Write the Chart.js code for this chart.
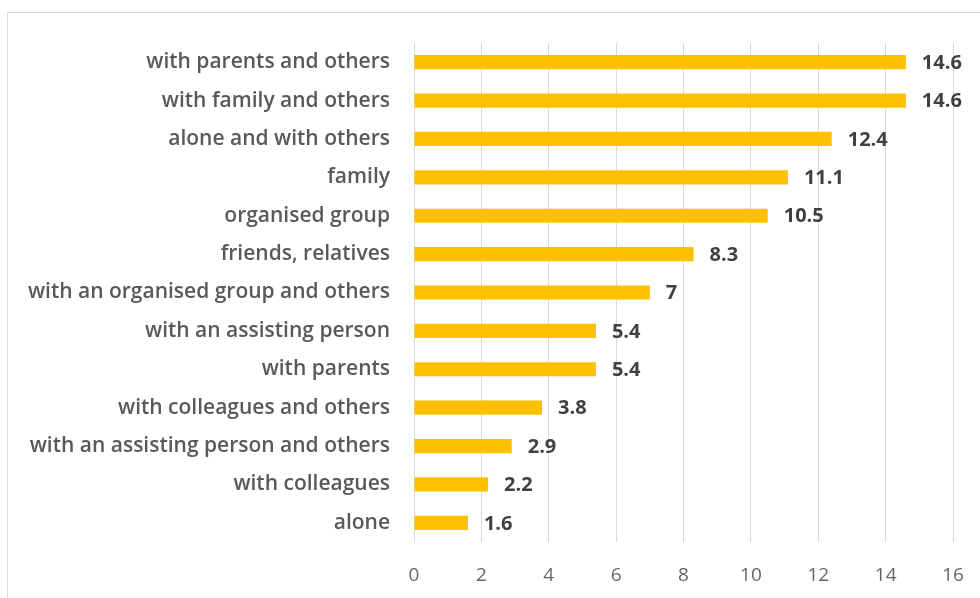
<!DOCTYPE html>
<html>
<head>
<meta charset="utf-8">
<script src="https://cdn.jsdelivr.net/npm/chart.js@4/dist/chart.umd.min.js"></script>
<style>
    html, body { margin: 0; padding: 0; background: #fff; }
    #wrap { position: relative; width: 980px; height: 598px; overflow: hidden; }
    #frame { position: absolute; left: 7px; top: 12px; width: 1000px; height: 700px; border-top: 1px solid #d9d9d9; border-left: 1px solid #d9d9d9; }
    #chart { position: absolute; left: 0; top: 0; }
</style>
</head>
<body>
<div id="wrap">
    <div id="frame"></div>
    <canvas id="chart" width="980" height="598"></canvas>
</div>
<script>
const categories = [
    'with parents and others',
    'with family and others',
    'alone and with others',
    'family',
    'organised group',
    'friends, relatives',
    'with an organised group and others',
    'with an assisting person',
    'with parents',
    'with colleagues and others',
    'with an assisting person and others',
    'with colleagues',
    'alone'
];
const values = [14.6, 14.6, 12.4, 11.1, 10.5, 8.3, 7, 5.4, 5.4, 3.8, 2.9, 2.2, 1.6];
const xTicks = [0, 2, 4, 6, 8, 10, 12, 14, 16];

const fontFamily = '"Open Sans", "Noto Sans", sans-serif';

// writes the value just past the end of each bar
const valueLabels = {
    id: 'valueLabels',
    afterDatasetsDraw(chart) {
        const ctx = chart.ctx;
        const meta = chart.getDatasetMeta(0);
        ctx.save();
        ctx.font = 'bold 20px ' + fontFamily;
        ctx.fillStyle = '#404040';
        ctx.textAlign = 'left';
        ctx.textBaseline = 'middle';
        meta.data.forEach((bar, i) => {
            ctx.fillText(String(values[i]), bar.x + 16, bar.y + 1);
        });
        ctx.restore();
    }
};

new Chart(document.getElementById('chart'), {
    type: 'bar',
    data: {
        labels: categories,
        datasets: [{
            data: values,
            backgroundColor: '#FFC000',
            barPercentage: 0.37,
            categoryPercentage: 1
        }]
    },
    options: {
        indexAxis: 'y',
        responsive: false,
        animation: false,
        layout: { padding: { top: 43, right: 27, bottom: 10, left: 0 } },
        plugins: {
            legend: { display: false },
            tooltip: { enabled: false }
        },
        scales: {
            x: {
                min: 0,
                max: 16,
                afterBuildTicks(axis) {
                    axis.ticks = xTicks.map(v => ({ value: v }));
                },
                afterFit(axis) {
                    axis.height = 46;
                    axis.paddingLeft = 0;
                    axis.paddingRight = 0;
                },
                grid: { color: '#d9d9d9', drawTicks: false },
                border: { display: false },
                ticks: {
                    color: '#666666',
                    padding: 22,
                    font: { family: fontFamily, size: 19 }
                }
            },
            y: {
                afterFit(axis) {
                    axis.width = 414;
                    axis.paddingTop = 0;
                    axis.paddingBottom = 0;
                },
                grid: { display: false },
                border: { color: '#d9d9d9' },
                ticks: {
                    color: '#595959',
                    padding: 16,
                    font: { family: fontFamily, size: 21, weight: '600' }
                }
            }
        }
    },
    plugins: [valueLabels]
});
</script>
</body>
</html>
